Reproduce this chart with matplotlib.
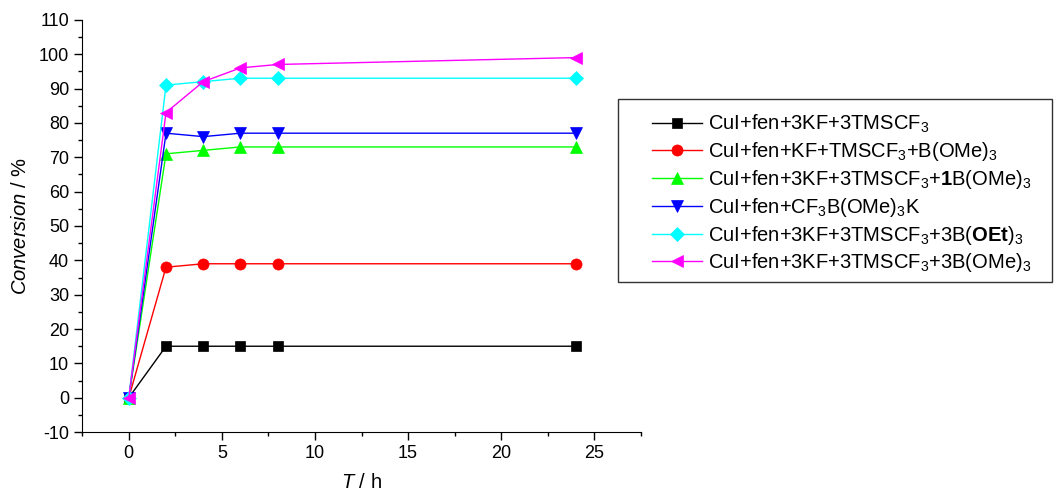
import numpy as np
import matplotlib
matplotlib.use("Agg")
import matplotlib.pyplot as plt
from matplotlib.patches import Rectangle
from matplotlib.ticker import MultipleLocator

plt.rcParams['font.family'] = ['Liberation Sans', 'DejaVu Sans']
plt.rcParams['mathtext.fontset'] = 'custom'
plt.rcParams['mathtext.rm'] = 'Liberation Sans'
plt.rcParams['mathtext.it'] = 'Liberation Sans:italic'
plt.rcParams['mathtext.bf'] = 'Liberation Sans:bold'
plt.rcParams['axes.unicode_minus'] = False

# time points (h)
hours = [0, 2, 4, 6, 8, 24]

# conversion (%) per reaction system
conv_3kf = [0, 15, 15, 15, 15, 15]
conv_kf_bome = [0, 38, 39, 39, 39, 39]
conv_1bome = [0, 71, 72, 73, 73, 73]
conv_cf3b = [0, 77, 76, 77, 77, 77]
conv_3boet = [0, 91, 92, 93, 93, 93]
conv_3bome = [0, 83, 92, 96, 97, 99]

labels = [
    r'CuI+fen+3KF+3TMSCF$_3$',
    r'CuI+fen+KF+TMSCF$_3$+B(OMe)$_3$',
    r'CuI+fen+3KF+3TMSCF$_3$+$\mathbf{1}$B(OMe)$_3$',
    r'CuI+fen+CF$_3$B(OMe)$_3$K',
    r'CuI+fen+3KF+3TMSCF$_3$+3B($\mathbf{OEt}$)$_3$',
    r'CuI+fen+3KF+3TMSCF$_3$+3B(OMe)$_3$',
]

series = [conv_3kf, conv_kf_bome, conv_1bome, conv_cf3b, conv_3boet, conv_3bome]
colors = ['black', 'red', '#00ff00', 'blue', 'cyan', 'magenta']
markers = ['s', 'o', '^', 'v', 'D', '<']
sizes = [7, 8, 8, 8, 7, 9]

W, H = 1054, 495
fig = plt.figure(figsize=(W / 100, H / 100), dpi=100)
ax = fig.add_axes([0.078, 0.127, 0.53, 0.833])

for y, c, m, s, lab in zip(series, colors, markers, sizes, labels):
    ax.plot(hours, y, color=c, marker=m, markersize=s, linewidth=1,
            markeredgewidth=0.5, label=lab)

ax.set_xlim(-2.5, 27.5)
ax.set_ylim(-10, 110)
ax.xaxis.set_major_locator(MultipleLocator(5))
ax.xaxis.set_minor_locator(MultipleLocator(2.5))
ax.yaxis.set_major_locator(MultipleLocator(10))
ax.yaxis.set_minor_locator(MultipleLocator(5))
ax.spines['top'].set_visible(False)
ax.spines['right'].set_visible(False)
ax.tick_params(which='major', direction='out', length=6, width=1, labelsize=13)
ax.tick_params(which='minor', direction='out', length=3, width=1)

ax.set_xlabel(r'$\mathit{T}$ / h', fontsize=14.5, labelpad=8)
ax.set_ylabel(r'$\mathit{Conversion}$ / %', fontsize=14.5, labelpad=6)

# legend entries without frame, box drawn separately (wide left margin)
leg = ax.legend(loc='upper left', bbox_to_anchor=(652 / W, 1 - 113 / H),
                bbox_transform=fig.transFigure, frameon=False,
                fontsize=14.5, handlelength=2.5, borderpad=0,
                labelspacing=0.24, handletextpad=0.3, borderaxespad=0)
box = Rectangle((618 / W, 1 - 282 / H), 434 / W, 183 / H,
                transform=fig.transFigure, fill=False,
                edgecolor='#333333', linewidth=1)
fig.add_artist(box)

fig.savefig('out.png', dpi=100)
